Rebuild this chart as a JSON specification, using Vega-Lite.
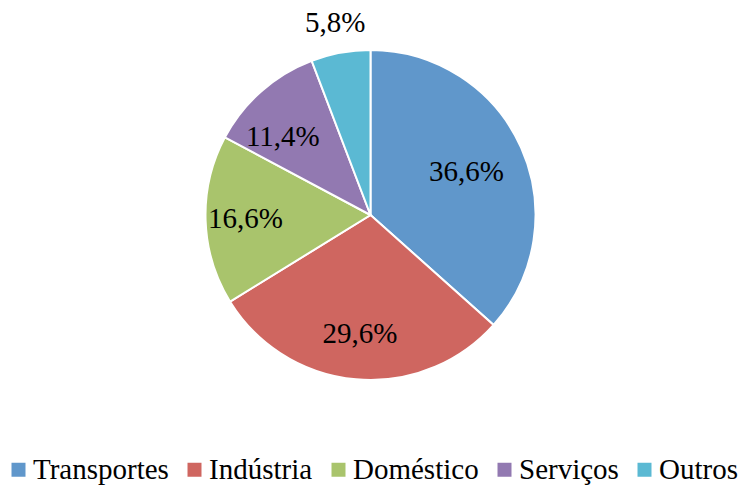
{
  "$schema": "https://vega.github.io/schema/vega-lite/v6.json",
  "width": 741,
  "height": 430,
  "padding": 0,
  "background": "white",
  "data": {
    "values": [
      {"setor": "Transportes", "valor": 36.6, "rotulo": "36,6%", "ordem": 1},
      {"setor": "Indústria", "valor": 29.6, "rotulo": "29,6%", "ordem": 2},
      {"setor": "Doméstico", "valor": 16.6, "rotulo": "16,6%", "ordem": 3},
      {"setor": "Serviços", "valor": 11.4, "rotulo": "11,4%", "ordem": 4},
      {"setor": "Outros", "valor": 5.8, "rotulo": "5,8%", "ordem": 5}
    ]
  },
  "encoding": {
    "theta": {"field": "valor", "type": "quantitative", "stack": true},
    "order": {"field": "ordem", "type": "quantitative"}
  },
  "layer": [
    {
      "mark": {"type": "arc", "outerRadius": 165, "stroke": "white", "strokeWidth": 2},
      "encoding": {
        "color": {
          "field": "setor",
          "type": "nominal",
          "scale": {
            "domain": ["Transportes", "Indústria", "Doméstico", "Serviços", "Outros"],
            "range": ["#6097CB", "#CF6660", "#A9C46C", "#9279B1", "#5BB9D3"]
          },
          "legend": {
            "title": null,
            "orient": "none",
            "legendX": 4,
            "legendY": 455,
            "direction": "horizontal",
            "symbolType": "square",
            "symbolSize": 196,
            "symbolStrokeWidth": 0,
            "labelFont": "Liberation Serif",
            "labelFontSize": 29,
            "labelColor": "black",
            "labelOffset": 0,
            "columnPadding": 11,
            "labelLimit": 300
          }
        }
      }
    },
    {
      "mark": {"type": "text", "radius": 105, "font": "Liberation Serif", "fontSize": 29, "color": "black"},
      "encoding": {
        "text": {"condition": {"test": "datum.setor === 'Transportes'", "field": "rotulo"}, "value": ""}
      }
    },
    {
      "mark": {"type": "text", "radius": 119, "font": "Liberation Serif", "fontSize": 29, "color": "black"},
      "encoding": {
        "text": {"condition": {"test": "datum.setor === 'Indústria'", "field": "rotulo"}, "value": ""}
      }
    },
    {
      "mark": {"type": "text", "radius": 119, "dx": -9, "dy": 11, "font": "Liberation Serif", "fontSize": 29, "color": "black"},
      "encoding": {
        "text": {"condition": {"test": "datum.setor === 'Serviços'", "field": "rotulo"}, "value": ""}
      }
    },
    {
      "mark": {"type": "text", "radius": 125, "font": "Liberation Serif", "fontSize": 29, "color": "black"},
      "encoding": {
        "text": {"condition": {"test": "datum.setor === 'Doméstico'", "field": "rotulo"}, "value": ""}
      }
    },
    {
      "mark": {"type": "text", "radius": 195, "font": "Liberation Serif", "fontSize": 29, "color": "black"},
      "encoding": {
        "text": {"condition": {"test": "datum.setor === 'Outros'", "field": "rotulo"}, "value": ""}
      }
    }
  ],
  "config": {"view": {"stroke": null}}
}
